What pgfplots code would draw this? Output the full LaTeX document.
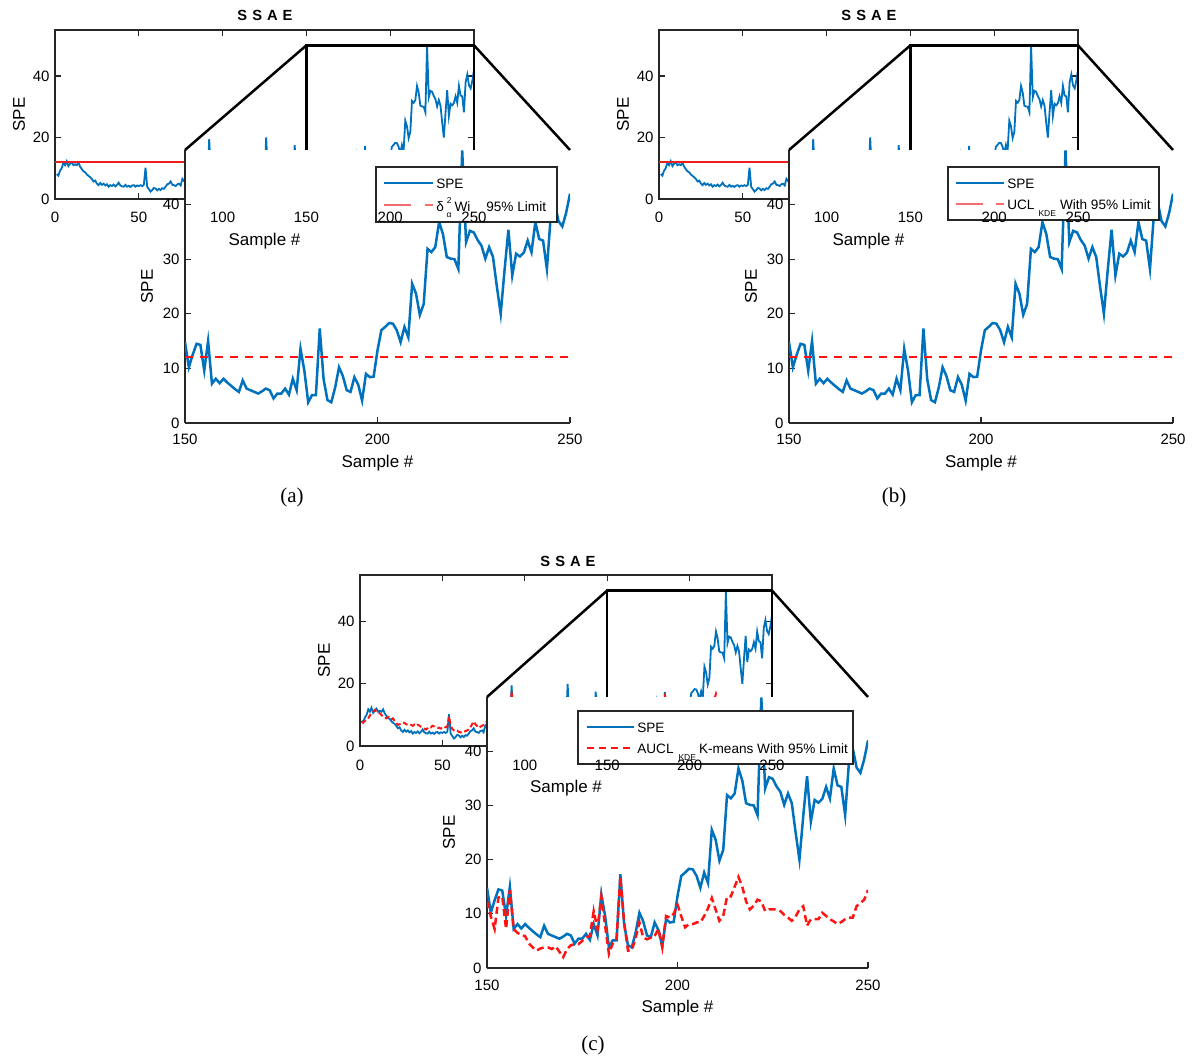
\documentclass[border=0pt]{standalone}
\usepackage{pgfplots}
\pgfplotsset{compat=1.18}
\usepackage{pgfplotstable}
\usepackage{fontspec}
\setmainfont{Liberation Sans}
\newfontfamily\timesfont{Liberation Serif}

\definecolor{mblue}{RGB}{0,114,189}
\definecolor{mred}{RGB}{255,20,20}
\definecolor{lred}{RGB}{242,110,110}
\definecolor{bgred}{RGB}{238,30,30}
\definecolor{axgray}{RGB}{38,38,38}

\newcommand\tickfont{\fontsize{15}{17}\selectfont}
\newcommand\labfont{\fontsize{17}{19}\selectfont}
\newcommand\legfont{\fontsize{13.6}{16}\selectfont}
\newcommand\subf{\fontsize{8.5}{9}\selectfont}
\newcommand\lstrut{\rule[-7pt]{0pt}{19pt}}

\pgfplotstableread{
x y
150 14.8
151 10.2
152 12.5
153 14.5
154 14.3
155 9.6
156 15.0
157 7.2
158 8.1
159 7.3
160 8.1
161 7.4
162 6.8
163 6.2
164 5.7
165 7.8
166 6.3
167 6.0
168 5.7
169 5.4
170 5.8
171 6.3
172 6.0
173 4.5
174 5.4
175 5.4
176 6.3
177 5.2
178 8.1
179 6.0
180 13.6
181 9.6
182 3.8
183 5.1
184 5.1
185 17.3
186 8.0
187 4.2
188 3.8
189 6.5
190 10.2
191 8.6
192 6.0
193 5.7
194 8.4
195 7.0
196 4.1
197 9.0
198 8.4
199 8.5
200 13.3
201 17.0
202 17.6
203 18.3
204 18.2
205 17.0
206 14.8
207 17.6
208 15.7
209 25.5
210 23.7
211 19.8
212 21.8
213 31.9
214 31.3
215 32.2
216 36.8
217 34.6
218 30.4
219 30.1
220 30.0
221 28.2
222 49.9
223 33.1
224 35.2
225 34.9
226 33.5
227 32.5
228 30.1
229 32.2
230 30.4
231 25.0
232 20.0
233 28.0
234 35.4
235 27.0
236 31.0
237 30.5
238 31.2
239 33.4
240 31.3
241 36.8
242 33.7
243 33.4
244 28.2
245 38.0
246 40.5
247 37.0
248 36.0
249 38.5
250 42.0
}\spezoom

\pgfplotstableread{
x y
1 8.1
2 7.6
3 9.2
4 10.0
5 11.8
6 11.0
7 12.3
8 10.7
9 11.5
10 12.0
11 11.0
12 11.3
13 11.0
14 11.8
15 10.5
16 9.7
17 9.0
18 8.7
19 8.0
20 7.5
21 7.1
22 6.5
23 5.7
24 6.0
25 5.0
26 4.5
27 5.2
28 4.6
29 5.0
30 4.4
31 4.8
32 4.0
33 4.5
34 4.2
35 4.7
36 4.1
37 4.6
38 5.3
39 4.4
40 4.1
41 4.0
42 4.6
43 4.0
44 4.3
45 3.9
46 4.4
47 4.5
48 4.0
49 4.4
50 4.2
51 4.5
52 4.2
53 4.6
54 10.2
55 4.0
56 3.2
57 2.4
58 2.9
59 3.6
60 3.4
61 2.8
62 3.3
63 2.9
64 3.5
65 3.3
66 4.0
67 4.8
68 5.0
69 5.7
70 4.6
71 4.5
72 4.2
73 4.8
74 5.0
75 4.4
76 6.6
77 5.8
78 5.5
80 6.0
82 5.0
84 7.0
86 6.0
88 8.0
90 6.0
91 7.0
92 19.5
93 8.0
95 6.0
98 7.0
101 5.0
104 6.0
107 5.0
110 7.0
113 5.0
116 6.0
119 5.0
122 6.0
125 7.0
126 20.0
127 8.0
130 6.0
133 5.0
136 7.0
139 6.0
142 7.0
143 17.5
144 9.0
146 12.0
148 14.0
149 13.0
}\spelow

\pgfplotstableread{
x y
150 12.3
151 9.5
152 7.2
153 13.0
154 13.2
155 7.2
156 14.4
157 7.2
158 6.5
159 6.0
160 5.9
161 4.5
162 3.8
163 3.2
164 3.6
165 3.8
166 3.8
167 3.5
168 4.0
169 3.0
170 2.0
171 3.5
172 4.2
173 4.4
174 4.4
175 5.0
176 5.6
177 5.9
178 10.5
179 7.2
180 13.2
181 7.8
182 2.6
183 4.5
184 5.3
185 16.8
186 8.4
187 3.2
188 3.3
189 5.5
190 8.4
191 5.6
192 5.3
193 5.6
194 5.9
195 7.2
196 3.8
197 9.6
198 9.3
199 10.0
200 11.7
201 9.5
202 7.5
203 8.1
204 8.1
205 8.4
206 8.4
207 9.6
208 11.0
209 12.9
210 10.8
211 8.7
212 9.6
213 13.2
214 13.2
215 15.0
216 16.8
217 15.0
218 12.3
219 10.8
220 11.5
221 12.6
222 12.3
223 10.5
224 10.8
225 10.8
226 10.8
227 10.5
228 9.8
229 9.3
230 8.7
231 9.5
232 10.8
233 11.4
234 7.8
235 9.0
236 9.0
237 9.0
238 10.2
239 9.6
240 9.0
241 8.6
242 8.1
243 8.5
244 9.0
245 9.3
246 9.3
247 11.4
248 12.0
249 12.6
250 14.4
}\auclzoom

\pgfplotstableread{
x y
1 7.4
2 7.8
3 8.0
4 8.5
5 8.9
6 9.8
7 10.5
8 11.0
9 11.6
10 11.0
11 10.8
12 10.5
13 10.0
14 9.5
15 9.0
16 8.9
17 9.4
18 9.2
19 8.6
20 8.9
21 8.0
22 7.5
23 6.8
24 7.0
25 7.2
26 7.6
27 7.4
28 7.0
29 6.8
30 7.0
31 6.8
32 6.5
33 6.9
34 6.5
35 6.8
36 6.6
37 6.2
38 6.0
39 5.6
40 5.3
41 5.7
42 6.2
43 6.0
44 6.5
45 6.3
46 6.0
47 5.8
48 5.9
49 5.6
50 5.8
51 6.2
52 6.0
53 6.3
54 9.5
55 6.5
56 5.5
57 5.0
58 4.7
59 4.9
60 4.5
61 4.4
62 4.2
63 4.5
64 4.8
65 5.0
66 5.3
67 6.0
68 7.0
69 7.9
70 7.0
71 6.5
72 5.8
73 6.2
74 6.5
75 6.8
76 7.3
77 7.9
78 7.5
80 6.5
84 6.0
88 7.0
91 6.0
92 17.5
93 7.0
97 6.0
102 5.5
107 6.0
112 5.5
117 6.0
122 5.5
126 9.0
130 6.0
135 5.5
140 6.0
143 8.0
146 10.0
149 11.0
}\supp

\pgfplotsset{
  common/.style={scale only axis, anchor=south west,
    tick label style={font=\tickfont},
    label style={font=\labfont},
    /pgf/number format/assume math mode=true,
    axis line style={-, draw=axgray, line width=1.6pt},
    major tick style={draw=axgray, line width=1.3pt},
    major tick length=6pt, tick align=inside,
    yticklabel style={anchor=east, xshift=-2pt}},
  bgax/.style={common, xmin=0, xmax=250, ymin=0, ymax=55,
    xtick={0,50,...,250}, ytick={0,20,40}, xticklabel=\empty,
    clip=false, ylabel=SPE,
    ylabel style={at={(axis description cs:0,0.5)}, anchor=center, yshift=36pt}},
  lblax/.style={common, xmin=0, xmax=250, ymin=0, ymax=55,
    xtick={0,50,...,250}, ytick=\empty,
    axis line style={draw=none}, major tick length=0pt,
    xticklabel style={anchor=base, yshift=-24pt},
    xlabel={Sample \#},
    xlabel style={at={(axis description cs:0.5,0)}, anchor=center, yshift=-42pt}},
  inax/.style={common, xmin=150, xmax=250, ymin=0, ymax=50,
    axis x line*=bottom, axis y line*=left,
    axis background/.style={fill=white},
    xtick={150,200,250}, ytick={0,10,...,40},
    xticklabel style={anchor=base, yshift=-22pt},
    xlabel={Sample \#}, ylabel=SPE,
    xlabel style={at={(axis description cs:0.5,0)}, anchor=center, yshift=-40pt},
    ylabel style={at={(axis description cs:0,0.5)}, anchor=center, yshift=38pt},
    legend cell align=left,
    legend style={anchor=north west, draw=axgray, line width=2.2pt, fill=white,
      font=\legfont, inner xsep=7pt, inner ysep=5pt, row sep=0pt,
      nodes={inner xsep=2pt, inner ysep=4pt}}},
}

\begin{document}
\begin{tikzpicture}
\path[use as bounding box] (0pt,0pt) rectangle (1193pt,1063pt);

% ================= Panel (a) =================
\begin{axis}[bgax, at={(55pt,864pt)}, width=419pt, height=169pt]
\addplot[mblue, line width=1.8pt] table[x=x,y=y]{\spelow};
\addplot[mblue, line width=1.8pt] table[x=x,y=y]{\spezoom};
\addplot[bgred, line width=2pt] coordinates {(0,12.1) (250,12.1)};
\coordinate (A1) at (axis cs:150,50);
\coordinate (A2) at (axis cs:250,50);
\draw[line width=2.5pt, black] (axis cs:150,0) rectangle (axis cs:250,50);
\end{axis}
\begin{axis}[inax, name=insA, at={(185pt,640pt)}, width=385pt, height=273pt,
  legend style={at={(0.4935,0.9414)}}]
\addplot[mblue, line width=2.5pt,
  legend image code/.code={\draw[mblue, line width=2.2pt] (0pt,0pt) -- (49pt,0pt);}]
  table[x=x,y=y]{\spezoom};
\addlegendentry{\makebox[112pt][l]{\lstrut SPE}}
\addplot[mred, line width=2.5pt, dash pattern=on 8pt off 7pt,
  legend image code/.code={\draw[lred, line width=2pt, dash pattern=on 27pt off 14pt on 8pt off 60pt] (0pt,0pt) -- (49pt,0pt);}]
  coordinates {(150,12.1) (250,12.1)};
\addlegendentry{\makebox[112pt][l]{\lstrut δ\hspace{3pt}\raisebox{8pt}{\subf 2}\hspace{-5pt}\raisebox{-6pt}{\subf α}\hspace{3pt}Wi\hspace{16pt}95\% Limit}}
\end{axis}
\draw[line width=2.5pt, line join=miter] (A1) -- (insA.north west);
\draw[line width=2.5pt, line join=miter] (A2) -- (insA.north east);
\begin{axis}[lblax, at={(55pt,864pt)}, width=419pt, height=169pt]
\end{axis}
\node[font=\fontsize{14.7}{16}\selectfont\bfseries] at (265pt,1048pt) {S\hspace{5pt}S\hspace{5pt}A\hspace{5pt}E};
\node[font=\timesfont\fontsize{21}{24}\selectfont] at (292pt,566pt) {(a)};

% ================= Panel (b) =================
\begin{axis}[bgax, at={(659pt,864pt)}, width=419pt, height=169pt]
\addplot[mblue, line width=1.8pt] table[x=x,y=y]{\spelow};
\addplot[mblue, line width=1.8pt] table[x=x,y=y]{\spezoom};
\addplot[bgred, line width=2pt] coordinates {(0,12.1) (250,12.1)};
\coordinate (B1) at (axis cs:150,50);
\coordinate (B2) at (axis cs:250,50);
\draw[line width=2.5pt, black] (axis cs:150,0) rectangle (axis cs:250,50);
\end{axis}
\begin{axis}[inax, name=insB, at={(789pt,640pt)}, width=384pt, height=273pt,
  legend style={at={(0.4115,0.9414)}}]
\addplot[mblue, line width=2.5pt,
  legend image code/.code={\draw[mblue, line width=2.2pt] (0pt,0pt) -- (48pt,0pt);}]
  table[x=x,y=y]{\spezoom};
\addlegendentry{\makebox[143pt][l]{\lstrut SPE}}
\addplot[mred, line width=2.5pt, dash pattern=on 8pt off 7pt,
  legend image code/.code={\draw[lred, line width=2pt, dash pattern=on 27pt off 13pt on 8pt off 60pt] (0pt,0pt) -- (48pt,0pt);}]
  coordinates {(150,12.1) (250,12.1)};
\addlegendentry{\makebox[143pt][l]{\lstrut UCL\hspace{4pt}\raisebox{-6.5pt}{\subf KDE}\hspace{4pt}With 95\% Limit}}
\end{axis}
\draw[line width=2.5pt, line join=miter] (B1) -- (insB.north west);
\draw[line width=2.5pt, line join=miter] (B2) -- (insB.north east);
\begin{axis}[lblax, at={(659pt,864pt)}, width=419pt, height=169pt]
\end{axis}
\node[font=\fontsize{14.7}{16}\selectfont\bfseries] at (869pt,1048pt) {S\hspace{5pt}S\hspace{5pt}A\hspace{5pt}E};
\node[font=\timesfont\fontsize{21}{24}\selectfont] at (894pt,566pt) {(b)};

% ================= Panel (c) =================
\begin{axis}[bgax, at={(360pt,317pt)}, width=412pt, height=171pt]
\addplot[mblue, line width=1.8pt] table[x=x,y=y]{\spelow};
\addplot[mblue, line width=1.8pt] table[x=x,y=y]{\spezoom};
\addplot[mred, line width=2pt, dash pattern=on 5pt off 3pt] table[x=x,y=y]{\supp};
\addplot[mred, line width=2pt, dash pattern=on 5pt off 3pt] table[x=x,y=y]{\auclzoom};
\coordinate (C1) at (axis cs:150,50);
\coordinate (C2) at (axis cs:250,50);
\draw[line width=2.5pt, black] (axis cs:150,0) rectangle (axis cs:250,50);
\end{axis}
\begin{axis}[inax, name=insC, at={(487pt,95pt)}, width=381pt, height=271pt,
  legend style={at={(0.2362,0.952)}, inner xsep=8pt}]
\addplot[mblue, line width=2.5pt,
  legend image code/.code={\draw[mblue, line width=2.2pt] (0pt,0pt) -- (47pt,0pt);}]
  table[x=x,y=y]{\spezoom};
\addlegendentry{\makebox[206pt][l]{\lstrut SPE}}
\addplot[mred, line width=2.5pt, dash pattern=on 7pt off 4pt,
  legend image code/.code={\draw[mred, line width=2.2pt, dash pattern=on 7pt off 5pt] (0pt,0pt) -- (47pt,0pt);}]
  table[x=x,y=y]{\auclzoom};
\addlegendentry{\makebox[206pt][l]{\lstrut AUCL\hspace{5pt}\raisebox{-6.5pt}{\subf KDE}\hspace{3pt}K-means With 95\% Limit}}
\end{axis}
\draw[line width=2.5pt, line join=miter] (C1) -- (insC.north west);
\draw[line width=2.5pt, line join=miter] (C2) -- (insC.north east);
\begin{axis}[lblax, at={(360pt,317pt)}, width=412pt, height=171pt]
\end{axis}
\node[font=\fontsize{14.7}{16}\selectfont\bfseries] at (568pt,502pt) {S\hspace{5pt}S\hspace{5pt}A\hspace{5pt}E};
\node[font=\timesfont\fontsize{21}{24}\selectfont] at (593pt,18pt) {(c)};
\end{tikzpicture}
\end{document}
